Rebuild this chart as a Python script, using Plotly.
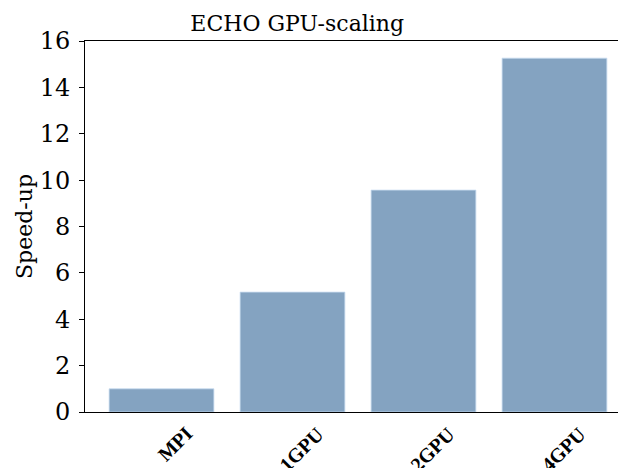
import plotly.graph_objects as go

categories = ["MPI", "1GPU", "2GPU", "4GPU"]
speedup = [1.0, 5.17, 9.57, 15.26]
y_ticks = [0, 2, 4, 6, 8, 10, 12, 14, 16]

BAR_COLOR = "#84a3c1"
SERIF = "DejaVu Serif, serif"

fig = go.Figure()
fig.add_trace(go.Bar(
    x=list(range(len(categories))),
    y=speedup,
    width=0.8,
    marker=dict(color=BAR_COLOR, line=dict(color="rgba(200,220,240,0.8)", width=1)),
))

# rotated category labels, drawn like matplotlib's rotation=45
for i, name in enumerate(categories):
    fig.add_annotation(
        x=i, y=0, xref="x", yref="paper",
        text="<b>" + name + "</b>", showarrow=False,
        textangle=-45, xanchor="right", yanchor="top",
        xshift=38, yshift=-8,
        font=dict(family="Liberation Serif, serif", size=20, color="black"),
    )

# the page body has an 8px margin, so the figure is offset by 8px
fig.update_layout(
    width=626, height=468,
    margin=dict(l=77, r=8, t=33, b=64),
    paper_bgcolor="white", plot_bgcolor="white",
    showlegend=False,
    title=dict(text="ECHO GPU-scaling", x=0.462, xanchor="center", y=0.968, yanchor="middle",
               font=dict(family=SERIF, size=22, color="black")),
    bargap=0.2,
)
fig.update_xaxes(
    range=[-0.584, 3.546], showticklabels=False, ticks="",
    showline=True, linecolor="black", linewidth=1, mirror=True,
    showgrid=False, zeroline=False, automargin=False,
)
fig.update_yaxes(
    range=[0, 16], tickvals=y_ticks, ticks="outside", ticklen=5, tickcolor="black",
    showline=True, linecolor="black", linewidth=1, mirror=False,
    showgrid=False, zeroline=False, automargin=False,
    tickfont=dict(family=SERIF, size=24, color="black"), ticklabelstandoff=4,
    title=dict(text="Speed-up", font=dict(family=SERIF, size=22, color="black"), standoff=0),
)

fig.write_html("out.html")
